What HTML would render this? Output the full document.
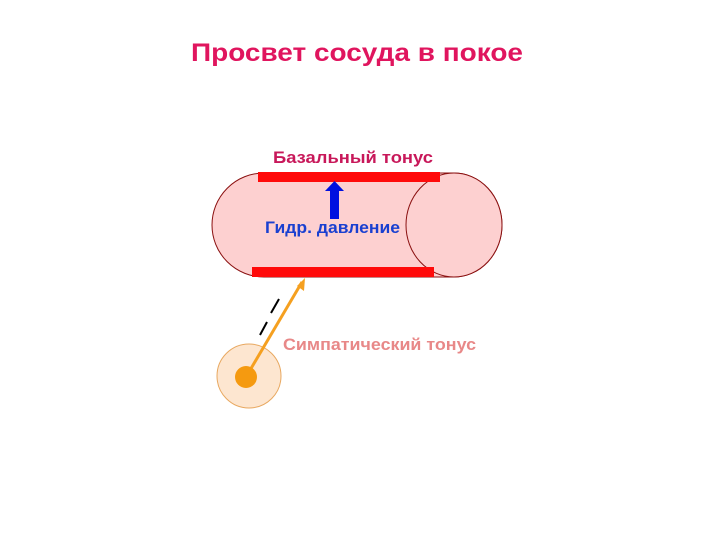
<!DOCTYPE html>
<html><head><meta charset="utf-8"><style>
body{margin:0;background:#fff;}
svg{display:block}
text{font-family:"Liberation Sans",sans-serif;font-weight:bold;}
</style></head><body>
<svg width="720" height="540" viewBox="0 0 720 540">
<text x="191" y="61" font-size="25" fill="#e0155e" textLength="332" lengthAdjust="spacingAndGlyphs">Просвет сосуда в покое</text>
<path d="M264,173 L454,173 A48,52 0 0 1 454,277 L264,277 A52,52 0 0 1 264,173 Z" fill="#fdd0d0" stroke="#8a1010" stroke-width="1"/>
<ellipse cx="454" cy="225" rx="48" ry="52" fill="#fdd0d0" stroke="#8a1010" stroke-width="1"/>
<rect x="258" y="172" width="182" height="10" fill="#ff0a0a"/>
<rect x="252" y="267" width="182" height="10" fill="#ff0a0a"/>
<rect x="330" y="190" width="9" height="29" fill="#0010e0"/>
<polygon points="325,191 344,191 334.5,181" fill="#0010e0"/>
<text x="273" y="163" font-size="17" fill="#c8185a" textLength="160" lengthAdjust="spacingAndGlyphs">Базальный тонус</text>
<text x="265" y="233" font-size="17" fill="#1a40d0" textLength="135" lengthAdjust="spacingAndGlyphs">Гидр. давление</text>
<text x="283" y="350" font-size="17" fill="#e88888" textLength="193" lengthAdjust="spacingAndGlyphs">Симпатический тонус</text>
<circle cx="249" cy="376" r="32" fill="#fde6d0" stroke="#e8a860" stroke-width="1"/>
<line x1="246" y1="377" x2="302" y2="282" stroke="#f5a020" stroke-width="3"/>
<polygon points="297,286 305,278 304,291" fill="#f5a020"/>
<circle cx="246" cy="377" r="11" fill="#f59a10"/>
<line x1="260" y1="335" x2="267" y2="322" stroke="#000" stroke-width="2"/>
<line x1="271" y1="313" x2="279" y2="299" stroke="#000" stroke-width="2"/>
</svg>
</body></html>
